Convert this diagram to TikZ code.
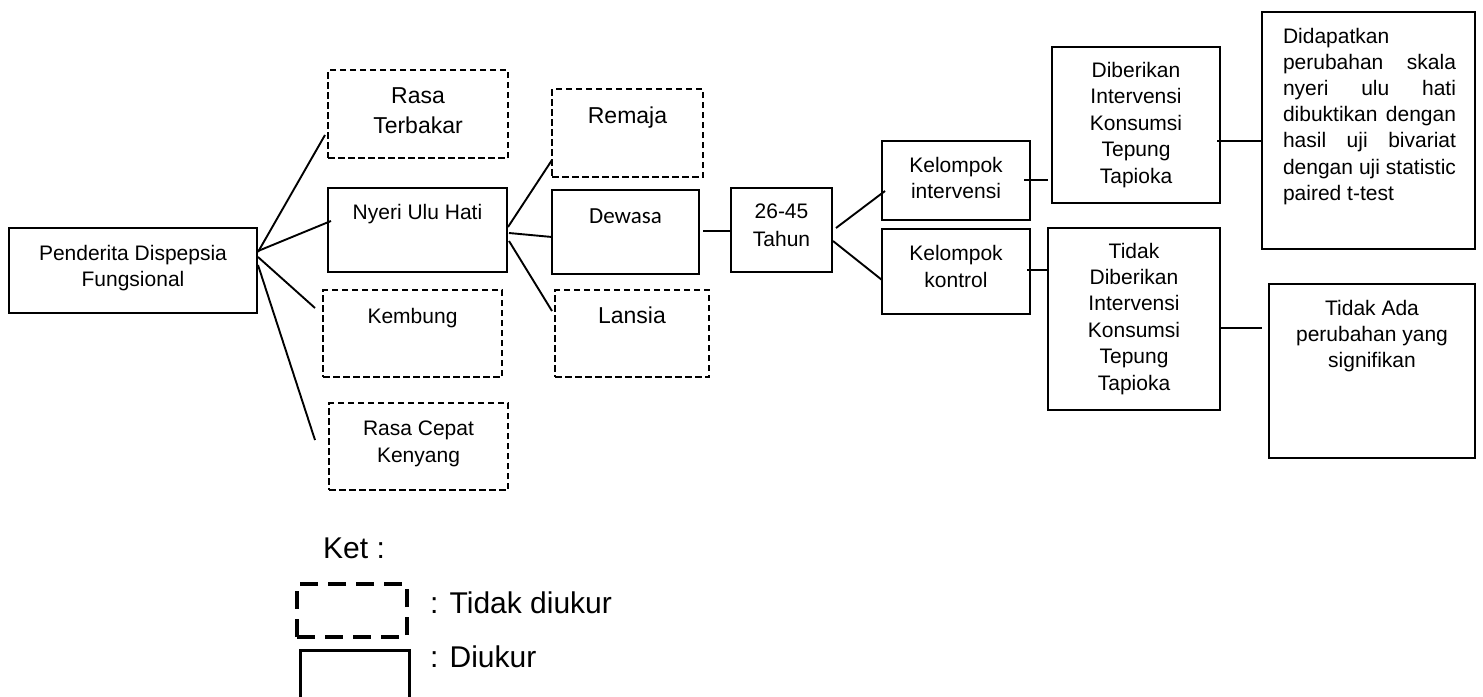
\documentclass[tikz,border=0pt]{standalone}
\usepackage{fontspec}
\setmainfont{Liberation Sans}
\newfontfamily\calibrifont{Carlito}
\usetikzlibrary{calc}
\newcommand\bxt[4]{\begin{minipage}[t][#2pt][t]{#1pt}\centering\rule{0pt}{#3pt}#4\end{minipage}}
\newcommand\jline[1]{\hbox to 173pt{#1}}
\tikzset{
  boxbase/.style={draw=black, line width=2pt, inner sep=0pt, outer sep=0pt, anchor=north west},
  solidbox/.style={boxbase},
  dashbox/.style={boxbase, line width=2.2pt, dash pattern=on 6.5pt off 3.5pt},
  link/.style={draw=black, line width=1.9pt},
  fs/.style 2 args={font=\fontsize{#1}{#2}\selectfont},
}
\begin{document}
\begin{tikzpicture}[x=1pt, y=-1pt]
\useasboundingbox (0,0) rectangle (1483,696);
\clip (0,0) rectangle (1483,696);

% boxes
\node[solidbox, fs={21}{26}] (pend) at (9,228) {\bxt{248}{85}{32}{Penderita Dispepsia\\Fungsional}};
\node[dashbox, fs={23}{30}] (rasa) at (328,70) {\bxt{180}{88}{33}{Rasa\\Terbakar}};
\node[solidbox, fs={21}{26}] (nyeri) at (328,188) {\bxt{179}{84}{31}{Nyeri Ulu Hati}};
\node[dashbox, fs={21}{26}] (kemb) at (323,290) {\bxt{179}{87}{33}{Kembung}};
\node[dashbox, fs={21}{27}] (cepat) at (329,403) {\bxt{179}{87}{32}{Rasa Cepat\\Kenyang}};
\node[dashbox, fs={23}{28}] (remaja) at (552,89) {\bxt{151}{88}{34}{Remaja}};
\node[solidbox, font=\calibrifont\fontsize{23}{28}\selectfont] (dewasa) at (552,190) {\bxt{147}{84}{33}{Dewasa}};
\node[dashbox, fs={23}{28}] (lansia) at (555,290) {\bxt{154}{87}{33}{Lansia}};
\node[solidbox, fs={21}{28}] (umur) at (731,188) {\bxt{101}{84}{30}{26-45\\Tahun}};
\node[solidbox, fs={21}{26}] (kint) at (882,141) {\bxt{148}{79}{31}{Kelompok\\intervensi}};
\node[solidbox, fs={21}{27}] (kkon) at (882,229) {\bxt{148}{85}{31}{Kelompok\\kontrol}};
\node[solidbox, fs={21}{26.5}] (dib) at (1052,47) {\bxt{168}{156}{30}{Diberikan\\Intervensi\\Konsumsi\\Tepung\\Tapioka}};
\node[solidbox, fs={21}{26.4}] (tdib) at (1048,228) {\bxt{172}{182}{30}{Tidak\\Diberikan\\Intervensi\\Konsumsi\\Tepung\\Tapioka}};
\node[solidbox, fs={21}{26.2}] (didap) at (1262,12) {\begin{minipage}[t][237pt][t]{213pt}\leftskip=21pt\rightskip=0pt plus 1fil\parfillskip=0pt plus 1fil
\rule{0pt}{31pt}\jline{Didapatkan\hfill}\\
\jline{perubahan\hfill skala}\\
\jline{nyeri\hfill ulu\hfill hati}\\
\jline{dibuktikan\hfill dengan}\\
\jline{hasil\hfill uji\hfill bivariat}\\
\jline{dengan\hfill uji\hfill statistic}\\
\jline{paired t-test\hfill}\end{minipage}};
\node[solidbox, fs={21}{26}] (tada) at (1269,284) {\bxt{206}{174}{31}{Tidak Ada\\perubahan yang\\signifikan}};

% connectors
\draw[link] ($(pend.east)+(1,-18.5)$) -- ($(rasa.west)+(-3,21)$);
\draw[link] ($(pend.east)+(1,-19.5)$) -- ($(nyeri.west)+(3,-9)$);
\draw[link] ($(pend.east)+(1,-13.5)$) -- ($(kemb.west)+(-8,-25.5)$);
\draw[link] ($(pend.east)+(1,-5.5)$) -- ($(cepat.west)+(-14,-6.5)$);
\draw[link] ($(nyeri.east)+(1,-3)$) -- ($(remaja.west)+(0,27)$);
\draw[link] ($(nyeri.east)+(2,3)$) -- ($(dewasa.west)+(0,5)$);
\draw[link] ($(nyeri.east)+(2,11)$) -- ($(lansia.west)+(-3,-22.5)$);
\draw[link] ($(dewasa.east)+(4,-1)$) -- ($(umur.west)+(0,1)$);
\draw[link] ($(umur.east)+(4,-2)$) -- ($(kint.west)+(3,10.5)$);
\draw[link] ($(umur.east)+(1,11)$) -- ($(kkon.west)+(0,8.5)$);
\draw[link] ($(kint.east)+(-6,-0.5)$) -- ($(dib.west)+(-4,55)$);
\draw[link] ($(kkon.east)+(-3,-1.5)$) -- (tdib.west |- {$(kkon.east)+(-3,-1.5)$});
\draw[link] ($(dib.east)+(-3,16)$) -- ($(didap.west)+(0,10.5)$);
\draw[link] ($(tdib.east)+(0,9)$) -- ($(tada.west)+(-7,-43)$);

% legend
\node[anchor=base west, inner sep=0pt, fs={30}{36}] (ket) at (323,558) {Ket :};
\node[draw=black, line width=4pt, dash pattern=on 18pt off 10pt, inner sep=0pt, minimum width=110pt, minimum height=53pt, anchor=north west] (lgdash) at (295,582) {};
\node[anchor=base west, inner sep=0pt, fs={30}{36}] (lgdasht) at (430,613) {: Tidak diukur};
\node[draw=black, line width=2.5pt, inner sep=0pt, minimum width=109pt, minimum height=70pt, anchor=north west] (lgsolid) at (299,649) {};
\node[anchor=base west, inner sep=0pt, fs={30}{36}] (lgsolidt) at (430,667) {: Diukur};
\end{tikzpicture}
\end{document}
